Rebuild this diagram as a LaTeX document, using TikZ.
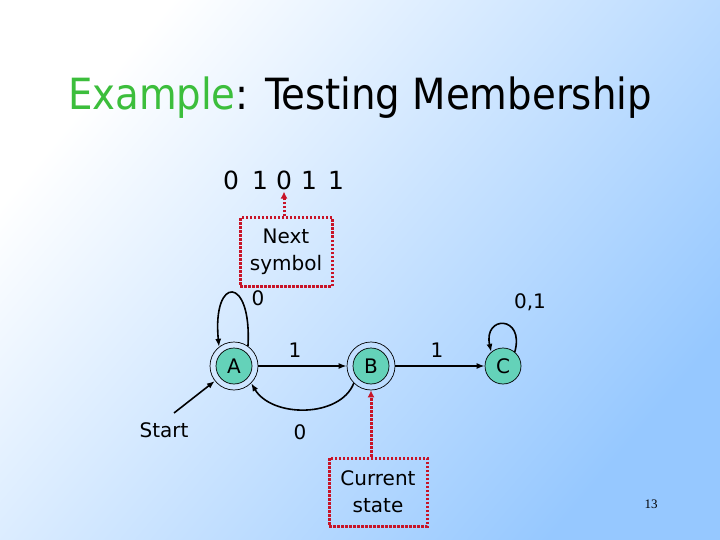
\documentclass[tikz,border=0pt]{standalone}
\usepackage{fontspec}
\setmainfont{DejaVu Sans}
\newfontfamily\titlefont{DejaVu Sans Condensed}
\newfontfamily\serifnum{Liberation Serif}
\usetikzlibrary{arrows.meta}
\definecolor{bgblue}{RGB}{150,200,255}
\definecolor{exgreen}{RGB}{60,190,60}
\definecolor{tealfill}{RGB}{100,210,185}
\definecolor{dred}{RGB}{200,20,40}
\begin{document}
\begin{tikzpicture}[x=1pt,y=-1pt,
  state/.style={circle, draw, line width=0.7pt, fill=tealfill, minimum size=36pt, inner sep=0pt, font=\fontsize{20}{20}\selectfont},
  outerring/.style={circle, draw, line width=0.7pt, minimum size=48pt, inner sep=0pt},
  edge/.style={line width=1.6pt, -{Latex[length=8pt,width=6pt]}},
  lbl/.style={font=\fontsize{20}{24}\selectfont, inner sep=1pt},
  digit/.style={font=\fontsize{25}{25}\selectfont, inner sep=1pt, anchor=base},
  note/.style={draw=dred, line width=3pt, dash pattern=on 2.5pt off 1.5pt, align=center, font=\fontsize{20}{27}\selectfont, inner sep=0pt},
  pointer/.style={draw=dred, line width=3pt, dash pattern=on 2.5pt off 1.5pt, -{Latex[length=7pt,width=7pt]}}]
\useasboundingbox (0,0) rectangle (720,540);
\shade[top color=white, bottom color=bgblue, shading angle=50] (0,0) rectangle (720,540);

\node[anchor=base, font=\titlefont\fontsize{43}{43}\selectfont] (title) at (360,110) {\textcolor{exgreen}{Example}: Testing Membership};

\foreach \i/\x/\d in {1/231/0,2/260/1,3/284/0,4/309/1,5/336/1}
  \node[digit] (d\i) at (\x,190) {\d};

\node[note, minimum width=92pt, minimum height=68pt] (ns) at (286,252) {Next\\symbol};
\node[note, minimum width=98pt, minimum height=68pt] (cs) at (378,492) {Current\\state};

\node[state] (Ai) at (234,366) {A};
\node[outerring] (A) at (234,366) {};
\node[state] (Bi) at (371,366) {B};
\node[outerring] (B) at (371,366) {};
\node[state] (C) at (503,366) {C};

\draw[edge] (A) -- (B);
\draw[edge] (B) -- (C);
\draw[edge] (B.225) .. controls (340,418) and (272,418) .. (A.315);
\draw[edge] (A.55) .. controls (252,275) and (212,275) .. (A.128);
\draw[edge] (C.50) .. controls (525,315) and (483,315) .. (C.130);

\node[lbl] (start) at (164,430) {Start};
\coordinate (s0) at (174,413);
\draw[edge] (s0) -- (A);

\node[lbl] (l1) at (295,350) {1};
\node[lbl] (l2) at (437,350) {1};
\node[lbl] (l3) at (300,432) {0};
\node[lbl] (l4) at (258,298) {0};
\node[lbl] (l5) at (530,302) {0,1};

\draw[pointer] (ns.north -| d3.south) -- (d3.south);
\draw[pointer] (cs.north -| B.south) -- (B.south);

\node[font=\serifnum\fontsize{13}{13}\selectfont] (pg) at (651,504) {13};
\end{tikzpicture}
\end{document}
